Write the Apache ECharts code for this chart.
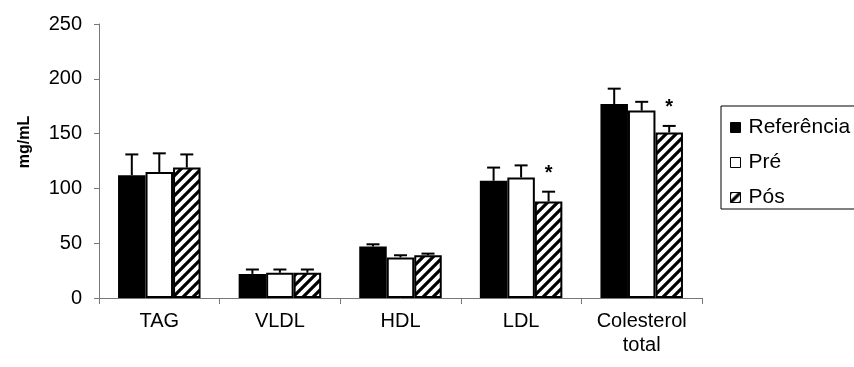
<!DOCTYPE html>
<html><head><meta charset="utf-8">
<script src="https://cdn.jsdelivr.net/npm/echarts@6/dist/echarts.min.js"></script>
<style>html,body{margin:0;padding:0;background:#fff}#c{width:854px;height:367px}</style>
</head><body><div id="c"></div>
<script>
const categories = ['TAG', 'VLDL', 'HDL', 'LDL', 'Colesterol\ntotal'];
const seriesNames = ['Referência', 'Pré', 'Pós'];
const refValues = [112, 22, 47, 107, 177];
const refErrors = [19, 4, 2, 12, 14];
const preValues = [115, 23, 37, 110, 171];
const preErrors = [17, 3, 2, 11, 8];
const posValues = [119, 23, 39, 88, 151];
const posErrors = [12, 3, 1.5, 9, 6];
const posMarks = ['', '', '', '*', '*'];
const yMin = 0, yMax = 250, yStep = 50;
const yTitle = 'mg/mL';

const FONT = '"Liberation Sans", Arial, sans-serif';
const BW = 27.5;

function hatch() {
  const c = document.createElement('canvas');
  c.width = 10; c.height = 10;
  const g = c.getContext('2d');
  g.fillStyle = '#fff'; g.fillRect(0, 0, 10, 10);
  g.strokeStyle = '#000'; g.lineWidth = 3.2;
  g.beginPath();
  g.moveTo(-3, 13); g.lineTo(13, -3);
  g.moveTo(-8, 8); g.lineTo(8, -8);
  g.moveTo(2, 18); g.lineTo(18, 2);
  g.stroke();
  return c;
}
const hatchPattern = { image: hatch(), repeat: 'repeat' };

const valuesList = [refValues, preValues, posValues];
const errorsList = [refErrors, preErrors, posErrors];
const styles = [
  { color: '#000', borderColor: '#000', borderWidth: 1.5 },
  { color: '#fff', borderColor: '#000', borderWidth: 2 },
  { color: hatchPattern, borderColor: '#000', borderWidth: 2 }
];

const errData = [];
for (let s = 0; s < 3; s++) {
  for (let i = 0; i < categories.length; i++) {
    errData.push([i, s, valuesList[s][i], errorsList[s][i], s === 2 ? posMarks[i] : '']);
  }
}

const chart = echarts.init(document.getElementById('c'), null, { renderer: 'canvas' });
chart.setOption({
  animation: false,
  backgroundColor: '#fff',
  textStyle: { fontFamily: FONT },
  grid: { left: 99, right: 152, top: 24, bottom: 69 },
  xAxis: {
    type: 'category', data: categories,
    axisLine: { lineStyle: { color: '#777', width: 1 } },
    axisTick: { show: true, length: 6, lineStyle: { color: '#777' } },
    axisLabel: { fontSize: 20, color: '#000', margin: 11, lineHeight: 24, fontFamily: FONT }
  },
  yAxis: {
    type: 'value', min: yMin, max: yMax, interval: yStep,
    splitLine: { show: false },
    axisLine: { show: true, lineStyle: { color: '#777', width: 1 } },
    axisTick: { show: true, length: 5, lineStyle: { color: '#777' } },
    axisLabel: { fontSize: 20, color: '#000', margin: 17, fontFamily: FONT }
  },
  legend: {
    orient: 'vertical', left: 721, top: 106,
    itemWidth: 10, itemHeight: 10, itemGap: 14,
    padding: [11, 10, 1, 9],
    borderColor: '#000', borderWidth: 1,
    icon: 'rect',
    textStyle: { fontSize: 21, color: '#000', fontFamily: FONT, padding: [0, 0, 0, 3] },
    data: seriesNames.map((n, k) => ({ name: n, itemStyle: Object.assign({}, styles[k], { borderWidth: 1 }) }))
  },
  graphic: [{
    type: 'text', x: 25, y: 142, rotation: Math.PI / 2,
    style: { text: yTitle, font: 'bold 16px ' + FONT, textAlign: 'center', textVerticalAlign: 'middle', fill: '#000' }
  }],
  series: seriesNames.map((n, k) => ({
    type: 'bar', name: n, data: valuesList[k],
    barWidth: BW, barGap: '0%',
    itemStyle: styles[k]
  })).concat([{
    type: 'custom', name: 'err', z: 5,
    data: errData,
    renderItem: function (params, api) {
      const cat = api.value(0), s = api.value(1), v = api.value(2), e = api.value(3);
      const mark = errData[params.dataIndex][4];
      const base = api.coord([cat, v]);
      const top = api.coord([cat, v + e]);
      const x = base[0] + (s - 1) * BW;
      const children = [
        { type: 'line', shape: { x1: x, y1: base[1], x2: x, y2: top[1] }, style: { stroke: '#000', lineWidth: 2 } },
        { type: 'line', shape: { x1: x - 6.5, y1: top[1], x2: x + 6.5, y2: top[1] }, style: { stroke: '#000', lineWidth: 2 } }
      ];
      if (mark) {
        children.push({ type: 'text', x: x, y: top[1] - 28,
          style: { text: mark, font: 'bold 20px ' + FONT, textAlign: 'center', textVerticalAlign: 'top', fill: '#000' } });
      }
      return { type: 'group', children: children };
    }
  }])
});
</script></body></html>
